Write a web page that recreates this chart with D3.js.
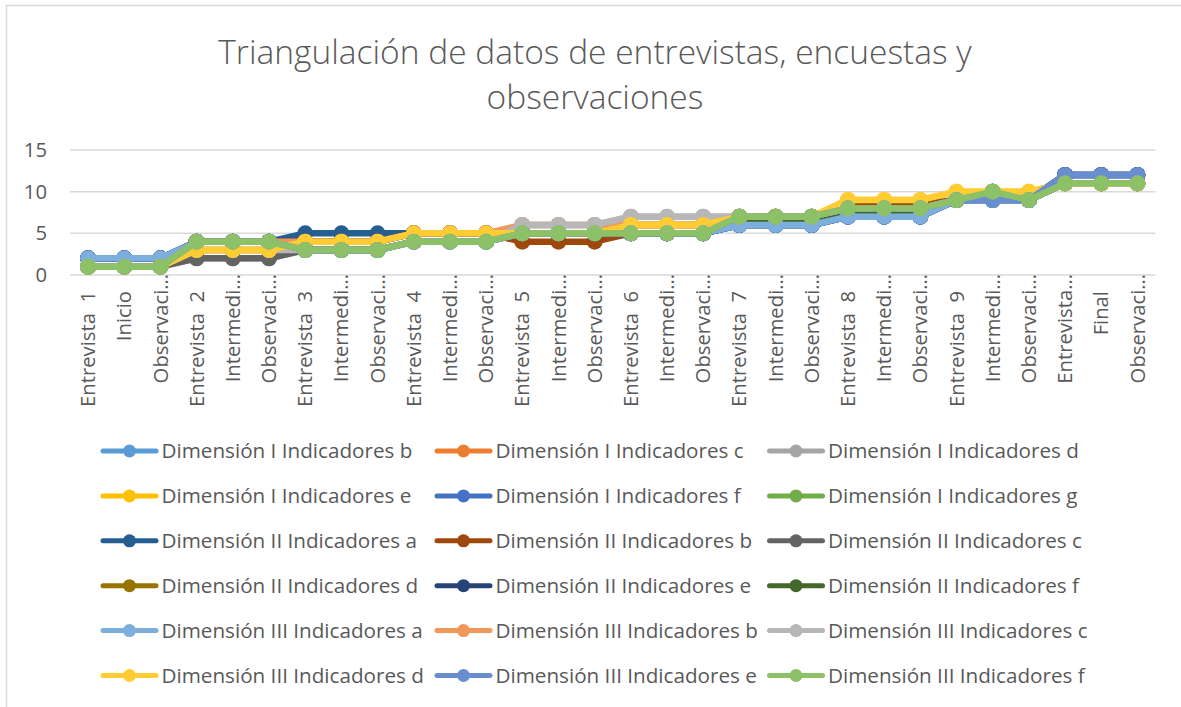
<!DOCTYPE html>
<html>
<head>
<meta charset="utf-8">
<script src="https://cdn.jsdelivr.net/npm/d3@7"></script>
<style>
  body { margin: 0; background: #fff; }
  text { font-family: 'Open Sans', sans-serif; fill: #595959; white-space: pre; }
</style>
</head>
<body>
<svg width="1181" height="707"></svg>
<script>
    var titleLines = ['Triangulación de datos de entrevistas, encuestas y', 'observaciones'];

    var categories = ['Entrevista  1', 'Inicio', 'Observaci…', 'Entrevista  2', 'Intermedi…', 'Observaci…',
        'Entrevista  3', 'Intermedi…', 'Observaci…', 'Entrevista  4', 'Intermedi…', 'Observaci…',
        'Entrevista  5', 'Intermedi…', 'Observaci…', 'Entrevista  6', 'Intermedi…', 'Observaci…',
        'Entrevista  7', 'Intermedi…', 'Observaci…', 'Entrevista  8', 'Intermedi…', 'Observaci…',
        'Entrevista  9', 'Intermedi…', 'Observaci…', 'Entrevista…', 'Final', 'Observaci…'];

    var yTicks = [0, 5, 10, 15];

    // one array per series, in the order of the legend
    var dimIb   = [2,2,2, 4,4,4, 3,3,3, 4,4,4, 5,5,5, 5,5,5, 6,6,6, 7,7,7, 9,9,9, 11,11,11];
    var dimIc   = [2,2,2, 4,4,4, 4,4,4, 5,5,5, 5,5,5, 6,6,6, 7,7,7, 8,8,8, 9,10,9, 11,11,11];
    var dimId   = [1,1,1, 2,2,2, 3,3,3, 4,4,4, 6,6,6, 7,7,7, 7,7,7, 8,8,8, 9,10,9, 11,11,11];
    var dimIe   = [1,1,1, 3,3,3, 4,4,4, 5,5,5, 5,5,5, 6,6,6, 7,7,7, 9,9,9, 10,10,10, 11,11,11];
    var dimIf   = [2,2,2, 4,4,4, 3,3,3, 4,4,4, 5,5,5, 5,5,5, 6,6,6, 7,7,7, 9,9,9, 12,12,12];
    var dimIg   = [1,1,1, 4,4,4, 3,3,3, 4,4,4, 5,5,5, 5,5,5, 7,7,7, 8,8,8, 9,10,9, 11,11,11];
    var dimIIa  = [2,2,2, 4,4,4, 5,5,5, 5,5,5, 5,5,5, 5,5,5, 6,6,6, 7,7,7, 9,9,9, 12,12,12];
    var dimIIb  = [1,1,1, 4,4,4, 4,4,4, 5,5,5, 4,4,4, 5,5,5, 7,7,7, 8.5,8.5,8.5, 9,10,9, 11,11,11];
    var dimIIc  = [1,1,1, 2,2,2, 3,3,3, 4,4,4, 5,5,5, 5,5,5, 7,7,7, 8,8,8, 9,10,9, 11,11,11];
    var dimIId  = [1,1,1, 3,3,3, 4,4,4, 5,5,5, 5,5,5, 6,6,6, 7,7,7, 8,8,8, 9,10,9, 11,11,11];
    var dimIIe  = [2,2,2, 4,4,4, 4,4,4, 5,5,5, 5,5,5, 5,5,5, 6,6,6, 7,7,7, 9,9,9, 12,12,12];
    var dimIIf  = [1,1,1, 4,4,4, 3,3,3, 4,4,4, 5,5,5, 5,5,5, 6.5,6.5,6.5, 7.5,7.5,7.5, 9,10,9, 11,11,11];
    var dimIIIa = [2,2,2, 4,4,4, 3,3,3, 4,4,4, 5,5,5, 5,5,5, 6,6,6, 7,7,7, 9,9,9, 11,11,11];
    var dimIIIb = [1,1,1, 4,4,4, 4,4,4, 5,5,5, 6,6,6, 6,6,6, 7,7,7, 8,8,8, 9,10,9, 11,11,11];
    var dimIIIc = [1,1,1, 3,3,3, 3,3,3, 4,4,4, 6,6,6, 7,7,7, 7,7,7, 8,8,8, 9,10,9, 11,11,11];
    var dimIIId = [1,1,1, 3,3,3, 4,4,4, 5,5,5, 5,5,5, 6,6,6, 7,7,7, 9,9,9, 10,10,10, 11,11,11];
    var dimIIIe = [1,1,1, 4,4,4, 3,3,3, 4,4,4, 5,5,5, 5,5,5, 7,7,7, 8,8,8, 9,9,9, 12,12,12];
    var dimIIIf = [1,1,1, 4,4,4, 3,3,3, 4,4,4, 5,5,5, 5,5,5, 7,7,7, 8,8,8, 9,10,9, 11,11,11];

    var seriesNames = ['Dimensión I Indicadores b', 'Dimensión I Indicadores c', 'Dimensión I Indicadores d',
        'Dimensión I Indicadores e', 'Dimensión I Indicadores f', 'Dimensión I Indicadores g',
        'Dimensión II Indicadores a', 'Dimensión II Indicadores b', 'Dimensión II Indicadores c',
        'Dimensión II Indicadores d', 'Dimensión II Indicadores e', 'Dimensión II Indicadores f',
        'Dimensión III Indicadores a', 'Dimensión III Indicadores b', 'Dimensión III Indicadores c',
        'Dimensión III Indicadores d', 'Dimensión III Indicadores e', 'Dimensión III Indicadores f'];

    var seriesColors = ['#5B9BD5', '#ED7D31', '#A5A5A5', '#FFC000', '#4472C4', '#70AD47',
        '#255E91', '#9E480E', '#636363', '#997300', '#264478', '#43682B',
        '#7CAFDD', '#F1975A', '#B7B7B7', '#FFCD33', '#698ED0', '#8CC168'];

    var seriesValues = [dimIb, dimIc, dimId, dimIe, dimIf, dimIg, dimIIa, dimIIb, dimIIc,
        dimIId, dimIIe, dimIIf, dimIIIa, dimIIIb, dimIIIc, dimIIId, dimIIIe, dimIIIf];

    var svg = d3.select('svg');

    // pick a font size so that a string gets a given width
    function fitSize(txt, target, weight) {
        var t = svg.append('text').attr('font-size', 100).attr('font-weight', weight || 400).text(txt);
        var w = t.node().getComputedTextLength();
        t.remove();
        return 100 * target / w;
    }

    // chart frame
    svg.append('rect')
        .attr('x', 6.5).attr('y', 5.5)
        .attr('width', 1300).attr('height', 800)
        .attr('fill', '#fff')
        .attr('stroke', '#d9d9d9')
        .attr('stroke-width', 1.5);

    // title
    var titleSize = fitSize(titleLines[0], 754, 300);
    svg.selectAll('.title')
        .data(titleLines)
        .enter()
        .append('text')
        .attr('class', 'title')
        .attr('x', 595)
        .attr('y', function (d, i) { return 52 + i * 45; })
        .attr('dy', '0.35em')
        .attr('text-anchor', 'middle')
        .attr('font-weight', 300)
        .attr('font-size', titleSize)
        .text(function (d) { return d; });

    var x = d3.scaleBand()
        .domain(d3.range(categories.length))
        .range([70, 1155.5]);

    var y = d3.scaleLinear()
        .domain([0, 15])
        .range([275, 150]);

    var labelSize = fitSize(categories[0], 116);

    // gridlines
    svg.append('g')
        .selectAll('line')
        .data(yTicks)
        .enter()
        .append('line')
        .attr('x1', 70).attr('x2', 1155.5)
        .attr('y1', function (d) { return y(d); })
        .attr('y2', function (d) { return y(d); })
        .attr('stroke', '#d9d9d9')
        .attr('stroke-width', 1.5);

    // y labels
    svg.append('g')
        .selectAll('text')
        .data(yTicks)
        .enter()
        .append('text')
        .attr('x', 47)
        .attr('y', function (d) { return y(d); })
        .attr('dy', '0.35em')
        .attr('text-anchor', 'end')
        .attr('font-size', labelSize)
        .text(function (d) { return d; });

    // x labels, rotated
    svg.append('g')
        .selectAll('text')
        .data(categories)
        .enter()
        .append('text')
        .attr('transform', function (d, i) {
            var top = d.indexOf('…') >= 0 ? 274 : 291;
            return 'translate(' + (x(i) + x.bandwidth() / 2) + ',' + top + ') rotate(-90)';
        })
        .attr('dy', '0.35em')
        .attr('text-anchor', 'end')
        .attr('font-size', labelSize)
        .text(function (d) { return d; });

    // series
    var line = d3.line()
        .x(function (d, i) { return x(i) + x.bandwidth() / 2; })
        .y(function (d) { return y(d); });

    var plot = svg.append('g');
    seriesValues.forEach(function (vals, s) {
        var g = plot.append('g');
        g.append('path')
            .attr('d', line(vals))
            .attr('fill', 'none')
            .attr('stroke', seriesColors[s])
            .attr('stroke-width', 6.5)
            .attr('stroke-linejoin', 'round');
        g.selectAll('circle')
            .data(vals)
            .enter()
            .append('circle')
            .attr('cx', function (d, i) { return x(i) + x.bandwidth() / 2; })
            .attr('cy', function (d) { return y(d); })
            .attr('r', 8)
            .attr('fill', seriesColors[s]);
    });

    // legend, 3 columns
    var legendSize = fitSize(seriesNames[0], 251);
    var colX = [101, 435, 767.5];
    var legend = svg.append('g')
        .selectAll('g')
        .data(seriesNames)
        .enter()
        .append('g')
        .attr('transform', function (d, i) {
            return 'translate(' + colX[i % 3] + ',' + (451 + Math.floor(i / 3) * 44.9) + ')';
        });
    legend.append('line')
        .attr('x1', 2).attr('x2', 55)
        .attr('stroke', function (d, i) { return seriesColors[i]; })
        .attr('stroke-width', 5)
        .attr('stroke-linecap', 'round');
    legend.append('circle')
        .attr('cx', 28.5)
        .attr('r', 6.5)
        .attr('fill', function (d, i) { return seriesColors[i]; });
    legend.append('text')
        .attr('x', 60.5)
        .attr('dy', '0.35em')
        .attr('font-size', legendSize)
        .text(function (d) { return d; });
</script>
</body>
</html>
